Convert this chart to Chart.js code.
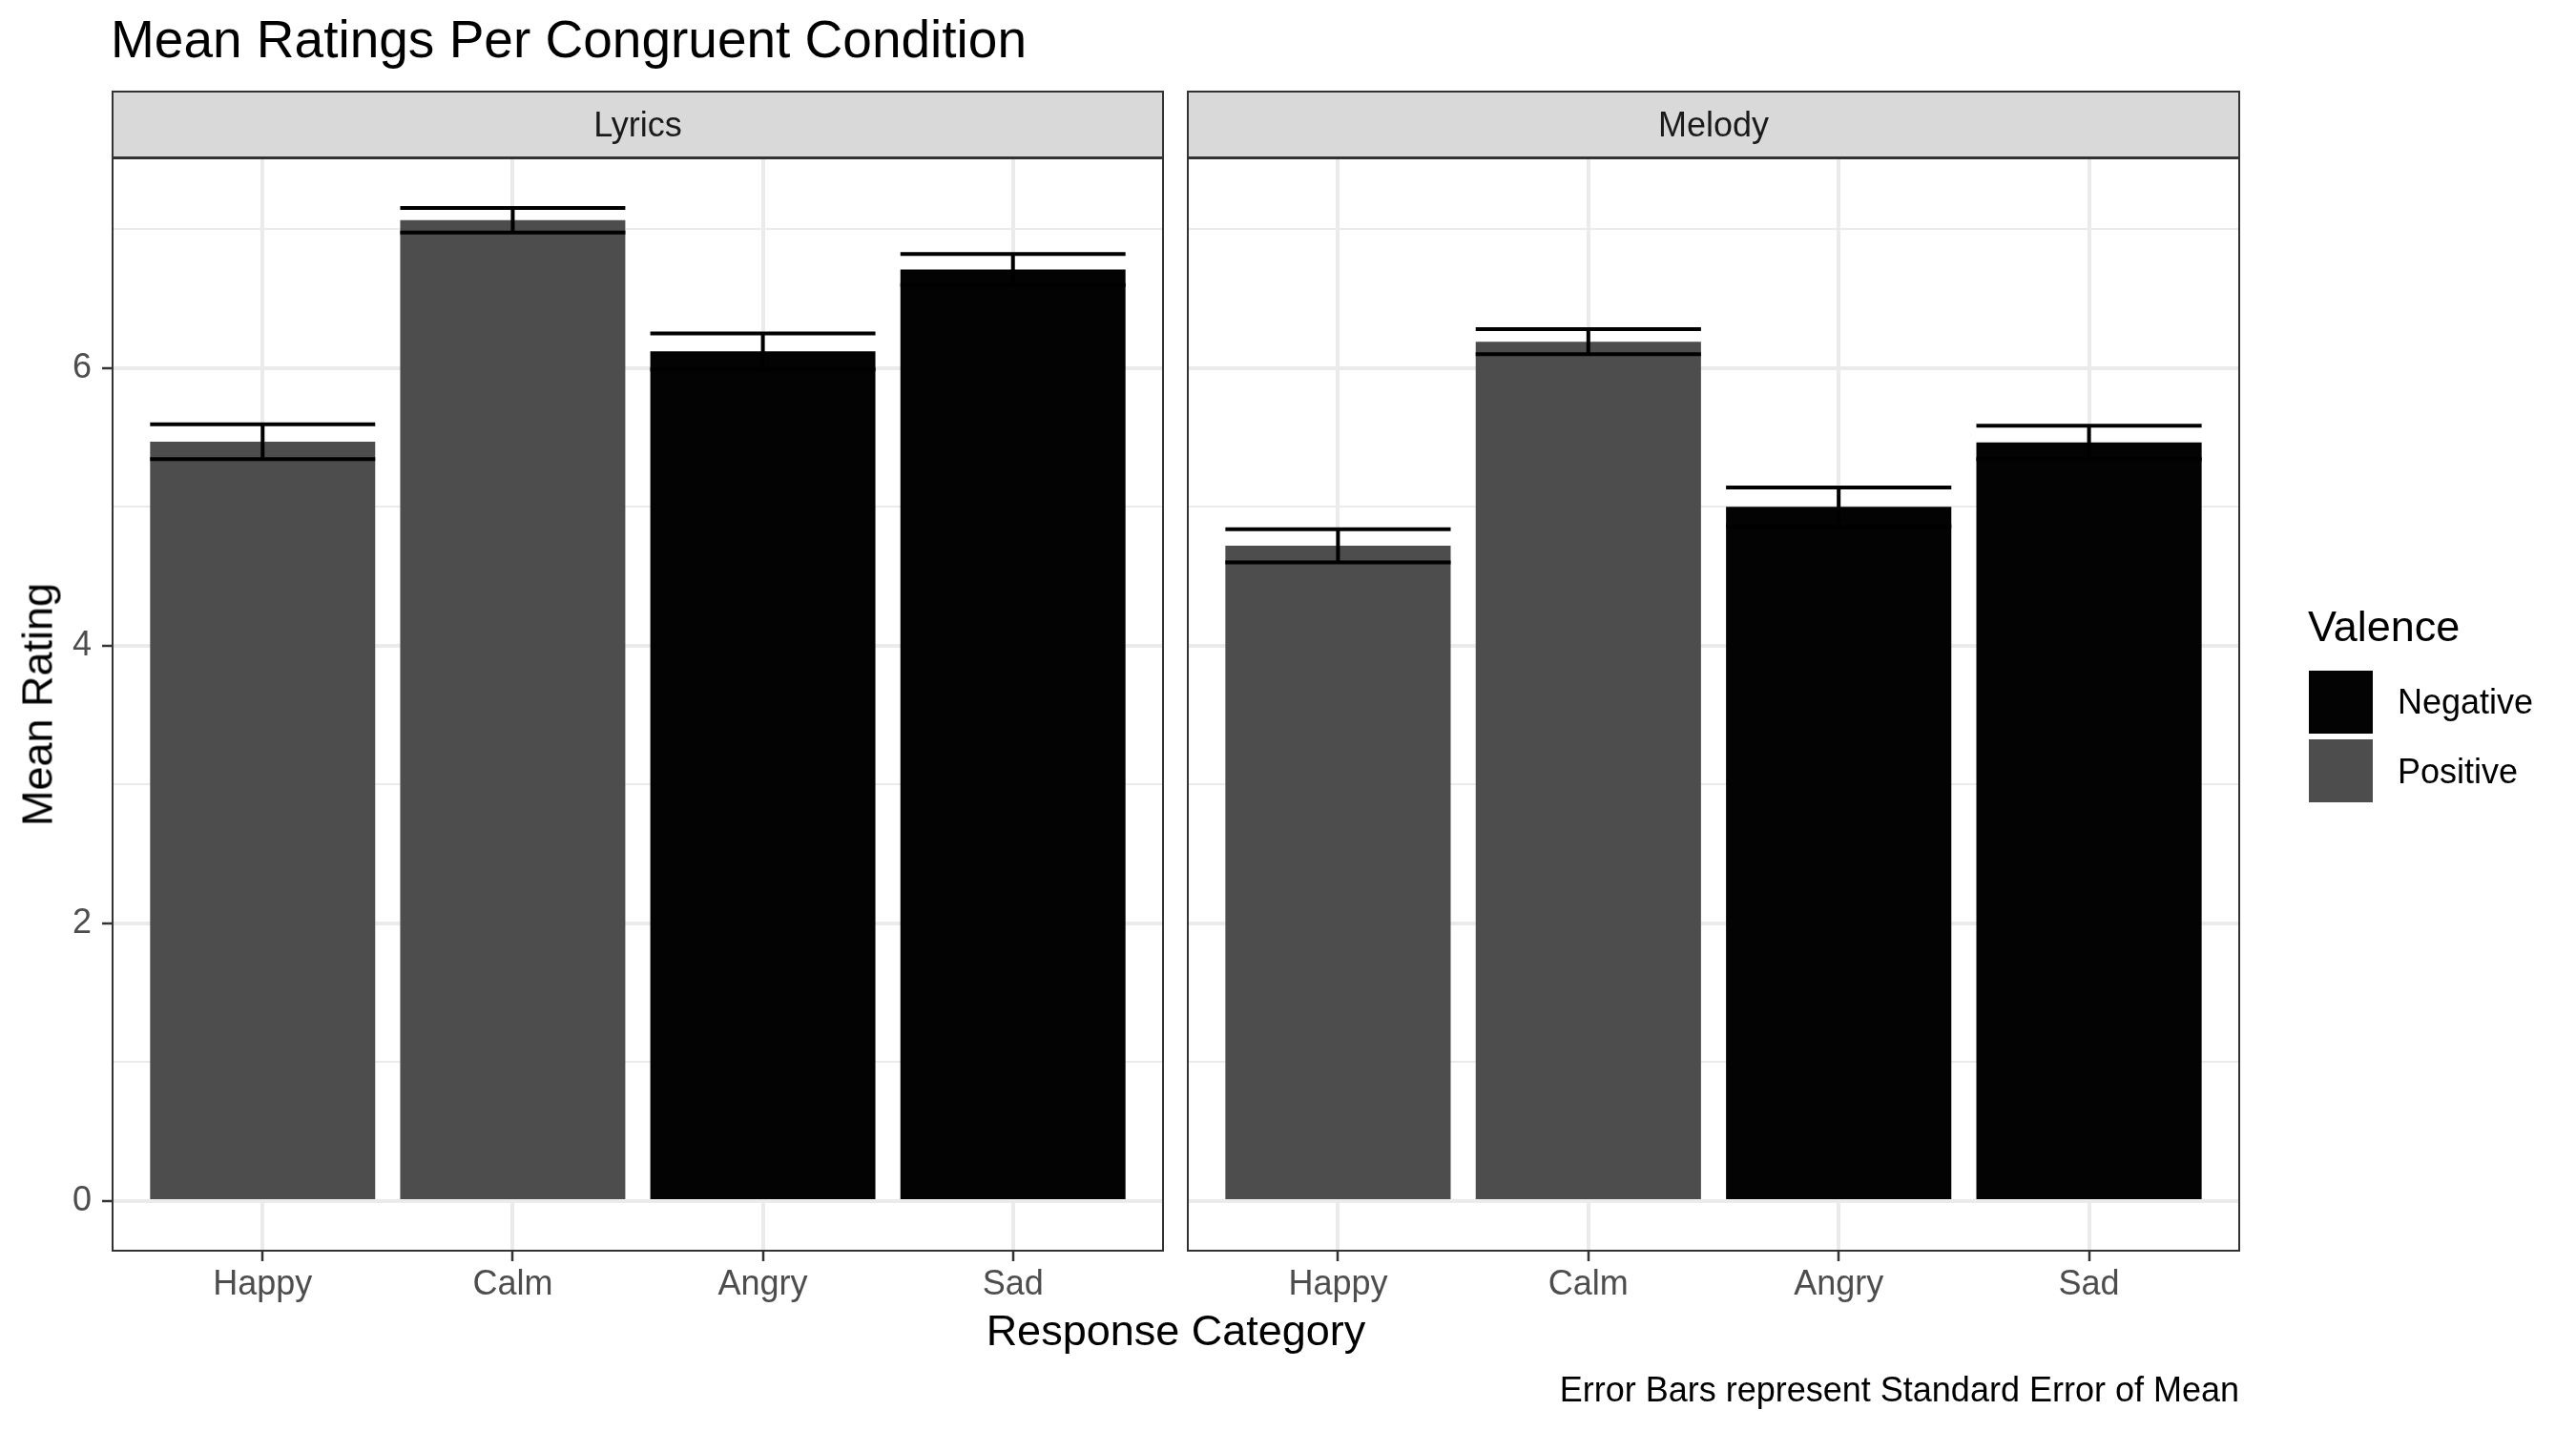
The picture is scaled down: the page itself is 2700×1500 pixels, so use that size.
<!DOCTYPE html>
<html>
<head>
<meta charset="utf-8">
<title>Mean Ratings Per Congruent Condition</title>
<script src="https://cdn.jsdelivr.net/npm/chart.js@4.4.1/dist/chart.umd.min.js"></script>
<style>
  html, body { margin: 0; padding: 0; background: #ffffff; }
  #page { position: relative; width: 2700px; height: 1500px; overflow: hidden; font-family: 'Liberation Sans', Arial, sans-serif; }
  canvas { position: absolute; left: 0; top: 0; }
  .txt { position: absolute; line-height: 1; white-space: nowrap; }
  .strip { position: absolute; box-sizing: border-box; border: 2px solid #333333; background: #d9d9d9; }
  .key { position: absolute; width: 67px; height: 66px; }
</style>
</head>
<body>
<div id="page">
  <div class="strip" style="left:117px; top:95px; width:1103px; height:71px;"></div>
  <div class="strip" style="left:1244px; top:95px; width:1104px; height:71px;"></div>
  <canvas id="lyrics" width="2700" height="1500"></canvas>
  <canvas id="melody" width="2700" height="1500"></canvas>
  <div class="key" style="left:2420px; top:703px; background:#030303;"></div>
  <div class="key" style="left:2420px; top:775px; background:#4d4d4d;"></div>
</div>
<script>
'use strict'

// 反応カテゴリと感情価
const categories = ['Happy', 'Calm', 'Angry', 'Sad'];
const valence = ['Positive', 'Positive', 'Negative', 'Negative'];
// 平均評価と標準誤差
const lyricsMeans = [5.47, 7.065, 6.12, 6.71];
const lyricsSE = [0.125, 0.088, 0.13, 0.112];
const melodyMeans = [4.72, 6.19, 5.00, 5.465];
const melodySE = [0.12, 0.09, 0.14, 0.12];
const yTicks = [0, 2, 4, 6];
const yMinorTicks = [1, 3, 5, 7];
const legendItems = ['Negative', 'Positive'];

const fillColors = { Negative: '#030303', Positive: '#4d4d4d' };
const FONT = "'Liberation Sans', Arial, sans-serif";
const SMALL = 36;   // 軸目盛・凡例・注記
const MEDIUM = 45;  // 軸タイトル・凡例タイトル
const LARGE = 55;   // タイトル
Chart.defaults.font.family = FONT;

// y の範囲（ggplot の 5% 拡張と同じ）
let dataTop = 0;
lyricsMeans.forEach((m, i) => { dataTop = Math.max(dataTop, m + lyricsSE[i]); });
melodyMeans.forEach((m, i) => { dataTop = Math.max(dataTop, m + melodySE[i]); });
const yMin = -0.05 * dataTop;
const yMax = dataTop * 1.05;

// エラーバー
const errorBars = {
  id: 'errorBars',
  afterDatasetsDraw(chart) {
    const ctx = chart.ctx;
    const y = chart.scales.y;
    const ds = chart.data.datasets[0];
    const meta = chart.getDatasetMeta(0);
    ctx.save();
    ctx.strokeStyle = '#000000';
    ctx.lineWidth = 4;
    meta.data.forEach((bar, i) => {
      const m = ds.data[i].y;
      const hi = y.getPixelForValue(m + ds.se[i]);
      const lo = y.getPixelForValue(m - ds.se[i]);
      const half = bar.width / 2;
      ctx.beginPath();
      ctx.moveTo(bar.x, hi); ctx.lineTo(bar.x, lo);
      ctx.moveTo(bar.x - half, hi); ctx.lineTo(bar.x + half, hi);
      ctx.moveTo(bar.x - half, lo); ctx.lineTo(bar.x + half, lo);
      ctx.stroke();
    });
    ctx.restore();
  }
};

// パネルの枠線
const panelBorder = {
  id: 'panelBorder',
  afterDraw(chart) {
    const a = chart.chartArea;
    const ctx = chart.ctx;
    ctx.save();
    ctx.strokeStyle = '#333333';
    ctx.lineWidth = 2;
    ctx.strokeRect(a.left, a.top, a.right - a.left, a.bottom - a.top);
    ctx.restore();
  }
};

function makePanel(id, means, ses, showY, padLeft, padRight, yWidth) {
  const ctx = document.getElementById(id).getContext('2d');
  return new Chart(ctx, {
    type: 'bar',
    data: {
      datasets: [{
        data: means.map((m, i) => ({ x: i + 1, y: m })),
        se: ses,
        backgroundColor: valence.map(v => fillColors[v]),
        borderWidth: 0,
        categoryPercentage: 0.9,
        barPercentage: 1.0
      }]
    },
    options: {
      responsive: false,
      animation: false,
      devicePixelRatio: 1,
      layout: { padding: { left: padLeft, right: padRight, top: 166, bottom: 0 } },
      plugins: { legend: { display: false }, tooltip: { enabled: false }, title: { display: false } },
      scales: {
        x: {
          type: 'linear',
          min: 0.4,
          max: 4.6,
          offset: false,
          afterBuildTicks: (scale) => { scale.ticks = categories.map((c, i) => ({ value: i + 1 })); },
          afterFit: (scale) => { scale.height = 189; },
          border: { display: false },
          grid: { color: '#ebebeb', lineWidth: 4, tickColor: '#333333', tickWidth: 2.5, tickLength: 11, offset: false },
          ticks: {
            callback: (v, i) => categories[i],
            color: '#4d4d4d',
            font: { size: SMALL, family: FONT },
            padding: 3,
            maxRotation: 0,
            autoSkip: false
          }
        },
        y: {
          type: 'linear',
          min: yMin,
          max: yMax,
          afterBuildTicks: (scale) => {
            scale.ticks = yTicks.concat(yMinorTicks).sort((a, b) => a - b).map(v => ({ value: v }));
          },
          afterFit: (scale) => { scale.width = yWidth; },
          border: { display: false },
          grid: {
            color: '#ebebeb',
            lineWidth: (c) => yTicks.includes(c.tick.value) ? 4 : 2,
            tickColor: (c) => yTicks.includes(c.tick.value) ? '#333333' : 'rgba(0,0,0,0)',
            tickWidth: 2.5,
            tickLength: 11,
            drawTicks: showY
          },
          ticks: {
            display: showY,
            callback: (v) => yTicks.includes(v) ? String(v) : '',
            color: '#4d4d4d',
            font: { size: SMALL, family: FONT },
            padding: 11,
            autoSkip: false
          }
        }
      }
    },
    plugins: [errorBars, panelBorder]
  });
}

makePanel('lyrics', lyricsMeans, lyricsSE, true, 0, 2700 - 1219, 118);
makePanel('melody', melodyMeans, melodySE, false, 1245, 2700 - 2347, 0);

// テキスト（ベースライン基準で配置）
const page = document.getElementById('page');
function addText(text, x, baseline, size, align, color) {
  const d = document.createElement('div');
  d.className = 'txt';
  d.textContent = text;
  d.style.fontSize = size + 'px';
  d.style.color = color || '#000000';
  d.style.top = (baseline - 0.8465 * size) + 'px';
  if (align === 'center') {
    d.style.left = (x - 1000) + 'px'; d.style.width = '2000px'; d.style.textAlign = 'center';
  } else if (align === 'right') {
    d.style.left = (x - 2000) + 'px'; d.style.width = '2000px'; d.style.textAlign = 'right';
  } else {
    d.style.left = x + 'px';
  }
  page.appendChild(d);
  return d;
}

addText('Mean Ratings Per Congruent Condition', 116, 61, LARGE, 'left');
addText('Lyrics', 668.5, 143.3, SMALL, 'center', '#1a1a1a');
addText('Melody', 1796, 143.3, SMALL, 'center', '#1a1a1a');
addText('Response Category', 1232.5, 1410, MEDIUM, 'center');
addText('Error Bars represent Standard Error of Mean', 2347, 1469, SMALL, 'right');
addText('Valence', 2419, 672, MEDIUM, 'left');
addText(legendItems[0], 2513, 748, SMALL, 'left');
addText(legendItems[1], 2513, 821, SMALL, 'left');

// y 軸タイトル（回転）
const yt = document.createElement('div');
yt.className = 'txt';
yt.textContent = 'Mean Rating';
yt.style.fontSize = MEDIUM + 'px';
yt.style.width = '1000px';
yt.style.textAlign = 'center';
yt.style.left = (55 - 0.3465 * MEDIUM - 500) + 'px';
yt.style.top = (738.5 - MEDIUM / 2) + 'px';
yt.style.transform = 'rotate(-90deg)';
page.appendChild(yt);
</script>
</body>
</html>
